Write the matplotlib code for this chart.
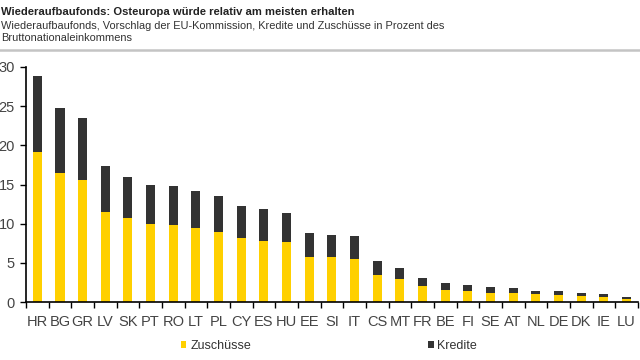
import matplotlib.pyplot as plt
from matplotlib.patches import Patch
from matplotlib.lines import Line2D

# Wiederaufbaufonds, % des Bruttonationaleinkommens
countries = ['HR', 'BG', 'GR', 'LV', 'SK', 'PT', 'RO', 'LT', 'PL', 'CY', 'ES', 'HU', 'EE', 'SI',
             'IT', 'CS', 'MT', 'FR', 'BE', 'FI', 'SE', 'AT', 'NL', 'DE', 'DK', 'IE', 'LU']
total = [28.9, 24.7, 23.5, 17.3, 16.0, 15.0, 14.8, 14.2, 13.5, 12.3, 11.9, 11.4, 8.8, 8.6,
         8.4, 5.3, 4.3, 3.1, 2.4, 2.2, 1.9, 1.75, 1.45, 1.45, 1.2, 1.0, 0.6]
zuschuesse = [19.2, 16.5, 15.6, 11.5, 10.7, 9.9, 9.8, 9.4, 9.0, 8.2, 7.8, 7.6, 5.8, 5.7,
              5.5, 3.5, 2.9, 2.0, 1.6, 1.45, 1.2, 1.1, 1.0, 0.9, 0.77, 0.7, 0.43]
kredite = [t - z for t, z in zip(total, zuschuesse)]

yellow = '#FFD000'
dark = '#333333'

plt.rcParams['font.family'] = 'Liberation Sans'

fig = plt.figure(figsize=(6.4, 3.6), dpi=100)
ax = fig.add_axes([0.0406, 0.161, 0.956, 0.653])

x = list(range(len(countries)))
ax.bar(x, zuschuesse, width=0.4, color=yellow)
ax.bar(x, kredite, width=0.4, bottom=zuschuesse, color=dark)

ax.set_xlim(-0.5, len(countries) - 0.5)
ax.set_ylim(0, 30)
ax.set_yticks([0, 5, 10, 15, 20, 25, 30])
# ticks sit between the categories, labels centred under the bars
ax.set_xticks([i - 0.5 for i in x] + [len(countries) - 0.5])
ax.set_xticklabels([])
ax.set_xticks(x, minor=True)
ax.set_xticklabels(countries, minor=True)
ax.tick_params(axis='x', which='major', direction='out', length=4, width=1, color='black')
ax.tick_params(axis='x', which='minor', length=0, pad=9, labelsize=10.5, labelcolor='#444444')
ax.tick_params(axis='y', direction='out', length=4, width=1, pad=4, labelsize=10.5,
               labelcolor='#444444')

for side in ['top', 'right']:
    ax.spines[side].set_visible(False)
ax.spines['left'].set_linewidth(1.2)
ax.spines['bottom'].set_linewidth(1.2)

# title block
fig.text(0.001, 0.967, 'Wiederaufbaufonds: Osteuropa würde relativ am meisten erhalten',
         fontsize=8.1, fontweight='bold', color='#222222', va='center', ha='left')
fig.text(0.001, 0.929, 'Wiederaufbaufonds, Vorschlag der EU-Kommission, Kredite und Zuschüsse in Prozent des',
         fontsize=7.9, color='#333333', va='center', ha='left')
fig.text(0.001, 0.895, 'Bruttonationaleinkommens',
         fontsize=7.9, color='#333333', va='center', ha='left')
fig.add_artist(Line2D([0, 1], [0.861, 0.861], color='#c4c4c4', linewidth=1.8,
                      transform=fig.transFigure))

# legend
h1 = Patch(facecolor=yellow, edgecolor='none')
h2 = Patch(facecolor=dark, edgecolor='none')
fig.legend([h1], ['Zuschüsse'], loc='center left', bbox_to_anchor=(0.265, 0.04), frameon=False,
           handlelength=0.45, handleheight=0.45, handletextpad=0.3, fontsize=9,
           labelcolor='#333333')
fig.legend([h2], ['Kredite'], loc='center left', bbox_to_anchor=(0.651, 0.04), frameon=False,
           handlelength=0.45, handleheight=0.45, handletextpad=0.3, fontsize=9,
           labelcolor='#333333')

fig.savefig('out.png', dpi=100)
